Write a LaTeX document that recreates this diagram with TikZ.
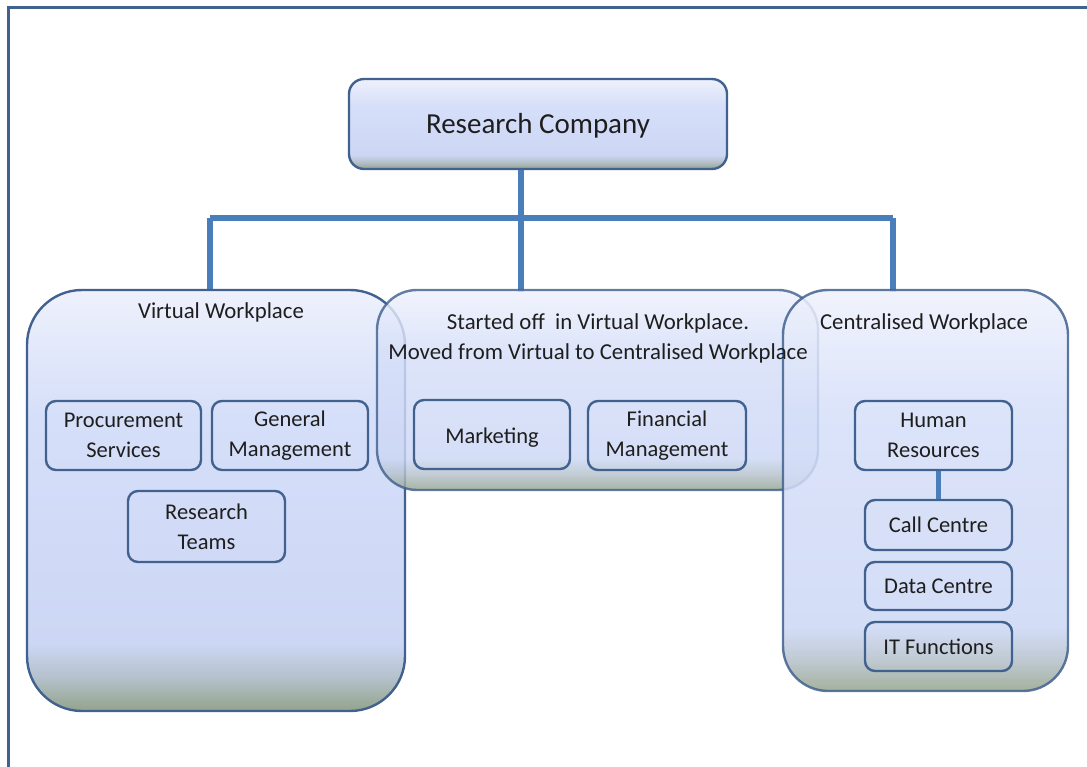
\documentclass[tikz,border=0pt]{standalone}
\usepackage{fontspec}
\setmainfont{Carlito}
\usetikzlibrary{shapes.misc}
\definecolor{edge}{HTML}{41618F}
\definecolor{connc}{HTML}{4A7EBB}
\definecolor{txt}{HTML}{1E1E1E}
\definecolor{gA}{HTML}{93A38B}
\definecolor{gB}{HTML}{B5C1CC}
\definecolor{gC}{HTML}{CCD7F5}
\definecolor{gD}{HTML}{D6DFF9}
\definecolor{gE}{HTML}{EEF1FC}
\pgfdeclareverticalshading{boxshade}{100bp}{color(0bp)=(gA); color(25bp)=(gA); color(29bp)=(gB); color(33bp)=(gC); color(60bp)=(gD); color(75bp)=(gE); color(100bp)=(gE)}
\begin{document}
\begin{tikzpicture}[x=1pt,y=-1pt,
  container/.style={draw=edge, line width=2.4pt, shading=boxshade, inner sep=0pt},
  unit/.style={draw=edge, line width=2.4pt, rounded corners=10pt, inner sep=0pt, align=center, text=txt, font=\fontsize{22.5}{30}\selectfont},
  lbl/.style={text=txt, inner sep=0pt, align=center, font=\fontsize{22.8}{30}\selectfont},
  conn/.style={draw=connc, line width=5.5pt}]
\useasboundingbox (0,0) rectangle (1087,767);
\draw[edge, line width=3pt] (8,8) rectangle (1100,780);
\node[container, rounded corners=15pt, minimum width=378pt, minimum height=90pt, text=txt, font=\fontsize{29}{34}\selectfont, text depth=1pt] (rc) at (538,124) {Research Company};
% connectors
\coordinate (hub) at (521,218);
\coordinate (bl) at (210,218);
\coordinate (br) at (893,218);
\draw[conn] (hub |- rc.south) -- (hub);
\draw[conn] (bl) -- (br);
\draw[conn] (bl) -- (210,292);
\draw[conn] (hub) -- (521,292);
\draw[conn] (br) -- (893,292);
% containers
\node[container, rounded corners=55pt, minimum width=378pt, minimum height=421pt] (vw) at (216,500.5) {};
\node[container, rounded corners=40pt, minimum width=441pt, minimum height=200pt, opacity=0.82] (mid) at (597.5,390) {};
\node[container, rounded corners=45pt, minimum width=285pt, minimum height=401pt, opacity=0.85] (cw) at (925.5,490.5) {};
% labels
\node[lbl] (vwl) at (221,312) {Virtual Workplace};
\node[lbl] (midl) at (598,338) {Started off\ \ in Virtual Workplace.\\Moved from Virtual to Centralised Workplace};
\node[lbl] (cwl) at (924,323) {Centralised Workplace};
% units
\node[unit, minimum width=155pt, minimum height=69pt] (ps) at (123.5,435.5) {Procurement\\Services};
\node[unit, minimum width=156pt, minimum height=69pt] (gm) at (290,435.5) {General\\Management};
\node[unit, minimum width=157pt, minimum height=71pt] (rt) at (206.5,526.5) {Research\\Teams};
\node[unit, minimum width=156pt, minimum height=69pt, text height=22pt] (mk) at (492,434.5) {Marketing};
\node[unit, minimum width=158pt, minimum height=69pt] (fm) at (667,435.5) {Financial\\Management};
\node[unit, minimum width=157pt, minimum height=69pt] (hr) at (933.5,435.5) {Human\\Resources};
\node[unit, minimum width=147pt, minimum height=50pt] (cc) at (938.5,525) {Call Centre};
\node[unit, minimum width=147pt, minimum height=48pt] (dc) at (938.5,586) {Data Centre};
\node[unit, minimum width=147pt, minimum height=49pt] (it) at (938.5,646.5) {IT Functions};
\draw[conn] (hr.south -| cc.north) -- (cc.north);
\end{tikzpicture}
\end{document}
